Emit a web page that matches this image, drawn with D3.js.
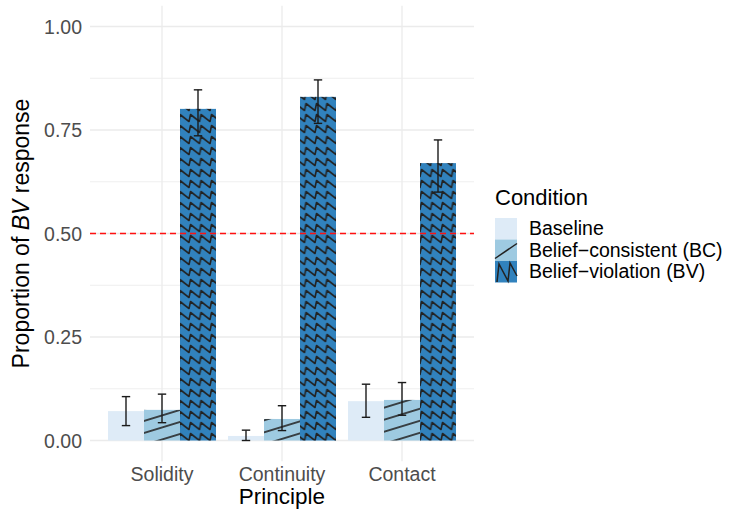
<!DOCTYPE html>
<html>
  <head>
    <meta charset="utf-8">
    <script src="https://d3js.org/d3.v7.min.js"></script>
    <style>
      body { margin: 0; background: #fff; }
      text { font-family: "Liberation Sans", Arial, sans-serif; }
    </style>
  </head>
<body>
  <script type="text/javascript">
    // data
    var principles = ["Solidity", "Continuity", "Contact"];
    var conditions = ["Baseline", "Belief\u2212consistent (BC)", "Belief\u2212violation (BV)"];
    var colors = ["#deebf7", "#9ecae1", "#3182bd"];

    var baseline = [0.071, 0.011, 0.095];
    var baselineLo = [0.036, 0.000, 0.056];
    var baselineHi = [0.106, 0.025, 0.136];

    var consistent = [0.074, 0.052, 0.098];
    var consistentLo = [0.043, 0.024, 0.061];
    var consistentHi = [0.112, 0.084, 0.140];

    var violation = [0.801, 0.830, 0.670];
    var violationLo = [0.736, 0.766, 0.600];
    var violationHi = [0.847, 0.871, 0.726];

    var yTicks = [0, 0.25, 0.5, 0.75, 1];
    var yMinor = [0.125, 0.375, 0.625, 0.875];
    var chance = 0.5;

    var width = 729, height = 510;
    var panel = {left: 90, right: 474, top: 5.8, bottom: 461.2};

    var series = [
      {cond: conditions[0], mean: baseline, lo: baselineLo, hi: baselineHi, fill: colors[0], pattern: null},
      {cond: conditions[1], mean: consistent, lo: consistentLo, hi: consistentHi, fill: colors[1], pattern: "url(#stripe)"},
      {cond: conditions[2], mean: violation, lo: violationLo, hi: violationHi, fill: colors[2], pattern: "url(#zigzag)"}
    ];

    var rows = [];
    series.forEach(function (s) {
      principles.forEach(function (p, i) {
        rows.push({principle: p, cond: s.cond, mean: s.mean[i], lo: s.lo[i], hi: s.hi[i], fill: s.fill, pattern: s.pattern});
      });
    });

    var svg = d3.select("body").append("svg")
      .attr("width", width)
      .attr("height", height);

    svg.append("rect").attr("width", width).attr("height", height).attr("fill", "#fff");

    // patterns
    var defs = svg.append("defs");
    var stripe = defs.append("pattern")
      .attr("id", "stripe")
      .attr("patternUnits", "userSpaceOnUse")
      .attr("width", 20).attr("height", 11.5)
      .attr("patternTransform", "translate(0,2) rotate(-17)");
    stripe.append("line")
      .attr("x1", -2).attr("x2", 22).attr("y1", 5.75).attr("y2", 5.75)
      .attr("stroke", "#222").attr("stroke-width", 1.6);

    var zig = defs.append("pattern")
      .attr("id", "zigzag")
      .attr("patternUnits", "userSpaceOnUse")
      .attr("width", 10.5).attr("height", 11)
      .attr("patternTransform", "translate(0,3)");
    zig.append("path")
      .attr("d", "M-10.5,8.5 L-9,1.5 L0,8.5 L1.5,1.5 L10.5,8.5 L12,1.5 L21,8.5")
      .attr("fill", "none")
      .attr("stroke", "#222").attr("stroke-width", 1.6)
      .attr("stroke-linejoin", "round");

    var x = d3.scalePoint()
      .domain(principles)
      .range([panel.left, panel.right])
      .padding(0.6);

    var dodge = d3.scaleBand()
      .domain(conditions)
      .range([-0.45 * x.step(), 0.45 * x.step()]);

    var y = d3.scaleLinear()
      .domain([-0.05, 1.05])
      .range([panel.bottom, panel.top]);

    // grid
    var grid = svg.append("g");
    grid.selectAll(".minor").data(yMinor).enter().append("line")
      .attr("x1", panel.left).attr("x2", panel.right)
      .attr("y1", function (d) { return y(d); })
      .attr("y2", function (d) { return y(d); })
      .attr("stroke", "#ebebeb").attr("stroke-width", 0.8);
    grid.selectAll(".major").data(yTicks).enter().append("line")
      .attr("x1", panel.left).attr("x2", panel.right)
      .attr("y1", function (d) { return y(d); })
      .attr("y2", function (d) { return y(d); })
      .attr("stroke", "#ebebeb").attr("stroke-width", 1.3);
    grid.selectAll(".vert").data(principles).enter().append("line")
      .attr("x1", function (d) { return x(d); })
      .attr("x2", function (d) { return x(d); })
      .attr("y1", panel.top).attr("y2", panel.bottom)
      .attr("stroke", "#ebebeb").attr("stroke-width", 1.3);

    // bars
    var bars = svg.append("g");
    bars.selectAll("rect.fill").data(rows).enter().append("rect")
      .attr("x", function (d) { return x(d.principle) + dodge(d.cond); })
      .attr("width", dodge.bandwidth())
      .attr("y", function (d) { return y(d.mean); })
      .attr("height", function (d) { return y(0) - y(d.mean); })
      .attr("fill", function (d) { return d.fill; });
    bars.selectAll("rect.pat").data(rows.filter(function (d) { return d.pattern; })).enter().append("rect")
      .attr("x", function (d) { return x(d.principle) + dodge(d.cond); })
      .attr("width", dodge.bandwidth())
      .attr("y", function (d) { return y(d.mean); })
      .attr("height", function (d) { return y(0) - y(d.mean); })
      .attr("fill", function (d) { return d.pattern; });

    // chance line
    svg.append("line")
      .attr("x1", panel.left).attr("x2", panel.right)
      .attr("y1", y(chance)).attr("y2", y(chance))
      .attr("stroke", "#ff1111").attr("stroke-width", 1.6)
      .attr("stroke-dasharray", "6,4");

    // error bars
    var eb = svg.append("g").attr("stroke", "#1a1a1a").attr("stroke-width", 1.4);
    rows.forEach(function (d) {
      var cx = x(d.principle) + dodge(d.cond) + dodge.bandwidth() / 2;
      eb.append("line").attr("x1", cx).attr("x2", cx).attr("y1", y(d.lo)).attr("y2", y(d.hi));
      eb.append("line").attr("x1", cx - 4.2).attr("x2", cx + 4.2).attr("y1", y(d.lo)).attr("y2", y(d.lo));
      eb.append("line").attr("x1", cx - 4.2).attr("x2", cx + 4.2).attr("y1", y(d.hi)).attr("y2", y(d.hi));
    });

    // axes text
    svg.selectAll(".ytick").data(yTicks).enter().append("text")
      .attr("x", 82)
      .attr("y", function (d) { return y(d); })
      .attr("dy", "0.36em")
      .attr("text-anchor", "end")
      .attr("fill", "#4d4d4d")
      .style("font-size", "19.5px")
      .text(function (d) { return d3.format(".2f")(d); });

    svg.selectAll(".xtick").data(principles).enter().append("text")
      .attr("x", function (d) { return x(d); })
      .attr("y", 481)
      .attr("text-anchor", "middle")
      .attr("fill", "#4d4d4d")
      .style("font-size", "19.5px")
      .text(function (d) { return d; });

    svg.append("text")
      .attr("x", (panel.left + panel.right) / 2)
      .attr("y", 504)
      .attr("text-anchor", "middle")
      .style("font-size", "22.5px")
      .text("Principle");

    var yt = svg.append("text")
      .attr("transform", "translate(29," + ((panel.top + panel.bottom) / 2) + ") rotate(-90)")
      .attr("text-anchor", "middle")
      .style("font-size", "23px");
    yt.append("tspan").text("Proportion of ");
    yt.append("tspan").style("font-style", "italic").text("BV");
    yt.append("tspan").text(" response");

    // legend
    var lg = svg.append("g").attr("transform", "translate(495,0)");
    lg.append("text").attr("x", 0).attr("y", 205).style("font-size", "22px").text("Condition");
    var keyTop = [218, 239.5, 261];
    series.forEach(function (s, i) {
      lg.append("rect").attr("x", 0).attr("y", keyTop[i]).attr("width", 22).attr("height", 21.5).attr("fill", s.fill);
      lg.append("text").attr("x", 34).attr("y", keyTop[i] + 17)
        .style("font-size", "19.5px").text(s.cond);
    });
    lg.append("line").attr("x1", 0).attr("y1", 258.5).attr("x2", 22).attr("y2", 243.5)
      .attr("stroke", "#222").attr("stroke-width", 1.5);
    lg.append("path").attr("d", "M2,282 L4,264 L13,281 L15,263 L22,276")
      .attr("fill", "none").attr("stroke", "#222").attr("stroke-width", 1.5);
  </script>
</body>
</html>
